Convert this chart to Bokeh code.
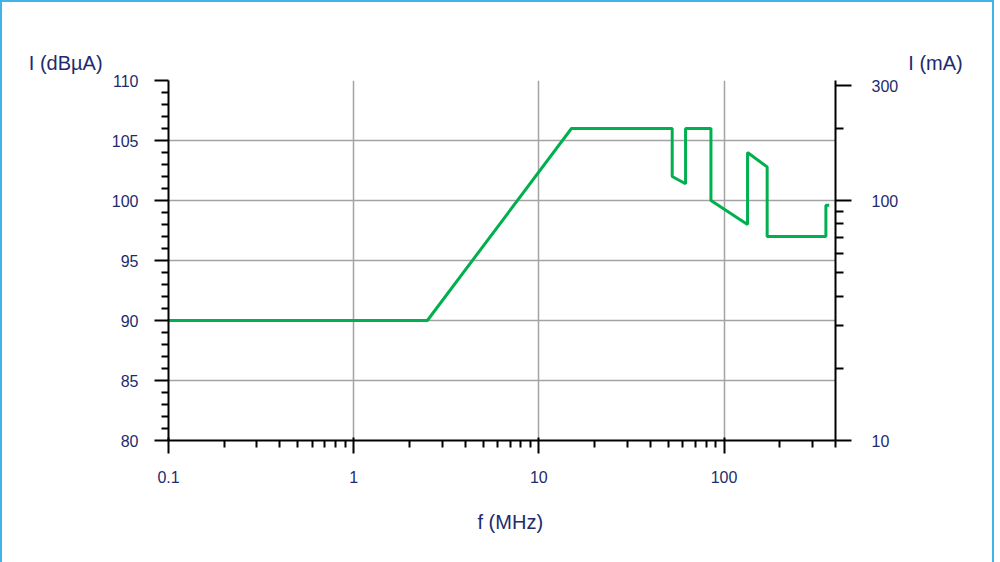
import math
from bokeh.plotting import figure
from bokeh.models import LinearAxis, LogAxis, FixedTicker, Title, CustomJSTickFormatter
from bokeh.embed import file_html
from bokeh.resources import INLINE

# ---- data ----
freq_mhz = [0.1, 2.5, 15, 52.5, 52.5, 62, 62, 85, 85, 134, 134, 171, 171, 355, 355, 370]
level_dbua = [90, 90, 106, 106, 102, 101.4, 106, 106, 100, 98, 104, 102.8, 97, 97, 99.6, 99.6]

x_major = [0.1, 1, 10, 100]
x_minor = [0.2, 0.3, 0.4, 0.5, 0.6, 0.7, 0.8, 0.9,
           2, 3, 4, 5, 6, 7, 8, 9,
           20, 30, 40, 50, 60, 70, 80, 90,
           200, 300, 400]
y_major = [80, 85, 90, 95, 100, 105, 110]
y_minor = [v for v in range(80, 111) if v % 5 != 0]
ma_major = [10, 100, 300]
ma_minor = [20, 30, 40, 50, 60, 70, 80, 90, 200]

left_title = "I (dBµA)"
right_title = "I (mA)"
x_title = "f (MHz)"

X_START, X_END = 0.1, 400


def ma_to_db(ma):
    return 20 * math.log10(ma) + 60


NAVY = "#1e2b6e"
GREEN = "#00b04f"
GRID = "#a3a3a3"
FONT = "Liberation Sans"
FRAME_BLUE = "#41b4e6"
NBSP = "\u00a0"

p = figure(x_axis_type="log", x_range=(X_START, X_END), y_range=(80, 110),
           frame_width=667, frame_height=360,
           min_border_left=168, min_border_right=149,
           min_border_top=80, min_border_bottom=106,
           output_backend="svg", toolbar_location=None)
p.title_location = None
p.outline_line_color = None
p.background_fill_color = "white"
p.border_fill_color = None
p.styles = {"box-shadow": (f"inset 2px 2px 0 0 {FRAME_BLUE}, "
                           f"5px 5px 0 3px white, 5px 9px 0 3px white, "
                           f"5px 5px 0 5px {FRAME_BLUE}, 5px 10px 0 5px {FRAME_BLUE}")}

# grids
p.xgrid.ticker = FixedTicker(ticks=[1, 10, 100])
p.ygrid.ticker = FixedTicker(ticks=[85, 90, 95, 100, 105, 110])
for g in (p.xgrid, p.ygrid):
    g.grid_line_color = GRID
    g.grid_line_width = 1.5

# bottom axis
xa = p.xaxis[0]
xa.ticker = FixedTicker(ticks=x_major, minor_ticks=x_minor)
xa.formatter = CustomJSTickFormatter(code="return tick.toString();")
xa.major_tick_in = 3
xa.major_tick_out = 13
xa.minor_tick_in = 0
xa.minor_tick_out = 7
xa.major_label_standoff = 17

# left axis
ya = p.yaxis[0]
ya.ticker = FixedTicker(ticks=y_major, minor_ticks=y_minor)
ya.major_tick_in = 0
ya.major_tick_out = 14
ya.minor_tick_in = 0
ya.minor_tick_out = 7
ya.major_label_standoff = 16

# right axis (mA)
ra = LinearAxis(ticker=FixedTicker(ticks=[ma_to_db(v) for v in ma_major],
                                   minor_ticks=[ma_to_db(v) for v in ma_minor]),
                formatter=CustomJSTickFormatter(
                    code="return Math.round(Math.pow(10, (tick - 60) / 20)).toString();"))
ra.major_tick_in = 0
ra.major_tick_out = 16
ra.minor_tick_in = 0
ra.minor_tick_out = 8
ra.major_label_standoff = 20
p.add_layout(ra, "right")

for ax in (xa, ya, ra):
    ax.axis_line_color = "black"
    ax.axis_line_width = 2
    ax.major_tick_line_color = "black"
    ax.major_tick_line_width = 2
    ax.minor_tick_line_color = "black"
    ax.minor_tick_line_width = 2
    ax.major_label_text_color = NAVY
    ax.major_label_text_font = FONT
    ax.major_label_text_font_size = "16px"

# unit titles above both vertical axes (labels at the two ends of a top axis)
ta = LogAxis(ticker=FixedTicker(ticks=[X_START, X_END]),
             formatter=CustomJSTickFormatter(
                 args=dict(l=left_title + NBSP * 37, r=NBSP * 36 + right_title),
                 code="return tick < 1 ? l : r;"))
ta.axis_line_color = None
ta.major_tick_line_color = None
ta.minor_tick_line_color = None
ta.major_tick_in = 0
ta.major_tick_out = 0
ta.major_label_standoff = 7
ta.major_label_text_color = NAVY
ta.major_label_text_font = FONT
ta.major_label_text_font_size = "20px"
p.add_layout(ta, "above")

# curve
p.line(freq_mhz, level_dbua, line_color=GREEN, line_width=3)

# frequency axis title
t_bottom = Title(text=x_title, align="left", offset=309, standoff=47)
t_bottom.text_color = NAVY
t_bottom.text_font = FONT
t_bottom.text_font_size = "20px"
t_bottom.text_font_style = "normal"
p.add_layout(t_bottom, "below")

open("out.html", "w").write(file_html(p, INLINE))
